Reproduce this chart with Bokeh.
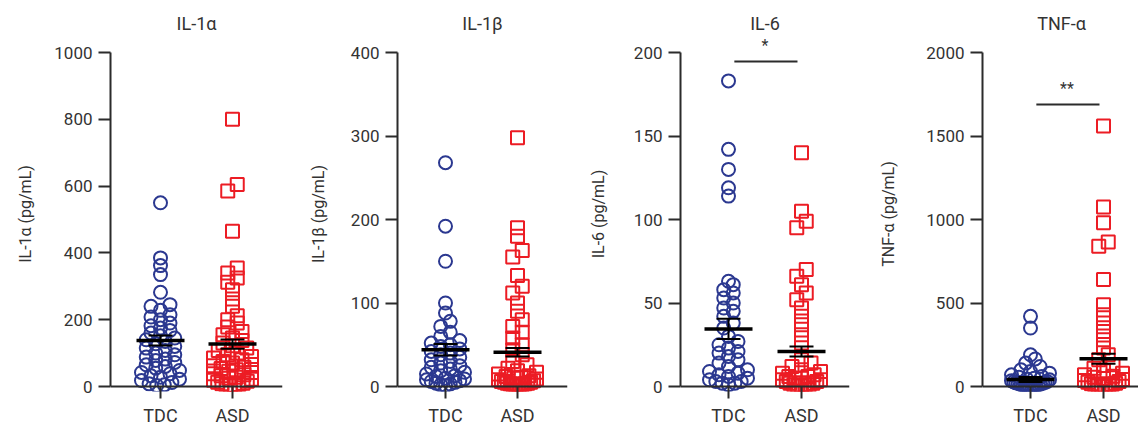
import numpy as np
from bokeh.plotting import figure
from bokeh.layouts import row
from bokeh.models import FixedTicker, Span, Range1d
from bokeh.core.properties import value
from bokeh.embed import file_html
from bokeh.resources import INLINE

# ---------------- data ----------------
groups = ["TDC", "ASD"]
group_x = [1, 2]
titles = ["IL-1α", "IL-1β", "IL-6", "TNF-α"]
ylabels = ["IL-1α (pg/mL)", "IL-1β (pg/mL)", "IL-6 (pg/mL)", "TNF-α (pg/mL)"]
y_max = [1000, 400, 200, 2000]
y_ticks = [[0, 200, 400, 600, 800, 1000],
           [0, 100, 200, 300, 400],
           [0, 50, 100, 150, 200],
           [0, 500, 1000, 1500, 2000]]

il1a_tdc = [550, 385, 362, 335, 282, 245, 240, 228, 215, 208, 200, 190, 182, 175, 168,
            160, 152, 145, 140, 135, 128, 120, 115, 108, 100, 95, 88, 82, 78, 72, 65,
            60, 55, 48, 42, 38, 32, 28, 22, 18, 12, 8, 5, 3]
il1a_asd = [800, 605, 585, 465, 355, 340, 325, 312, 290, 262, 240, 212, 200, 190, 178,
            165, 155, 145, 138, 130, 122, 115, 108, 100, 95, 90, 85, 80, 75, 70, 66, 62,
            58, 54, 50, 46, 42, 38, 35, 32, 28, 25, 22, 19, 16, 13, 10, 8, 6, 4, 3, 2]
il1b_tdc = [268, 192, 150, 100, 88, 78, 72, 65, 60, 55, 52, 50, 48, 45, 42, 40, 38, 35,
            32, 30, 28, 25, 23, 21, 19, 17, 15, 13, 12, 10, 9, 8, 7, 6, 5, 4, 3, 2, 1]
il1b_asd = [298, 190, 180, 163, 155, 133, 120, 112, 100, 90, 80, 72, 65, 58, 50, 44,
            38, 30, 26, 22, 19, 17, 15, 13, 12, 11, 10, 9, 8, 7, 6, 5, 5, 4, 4, 3, 3,
            2, 2, 1, 1]
il6_tdc = [183, 142, 130, 119, 114, 63, 61, 58, 56, 53, 50, 47, 45, 42, 38, 35, 30, 27,
           25, 23, 21, 20, 18, 16, 14, 12, 10, 9, 8, 7, 6, 5, 4, 3, 3, 2, 2, 1]
il6_asd = [140, 105, 99, 95, 70, 66, 61, 56, 52, 47, 42, 37, 31, 26, 16, 14, 12, 10, 9,
           8, 7, 6, 6, 5, 5, 4, 4, 3, 3, 2, 2, 1, 1, 1, 0.5, 0.5]
tnf_tdc = [420, 350, 190, 165, 140, 120, 100, 90, 80, 70, 60, 55, 50, 45, 40, 35, 30,
           28, 25, 22, 20, 18, 15, 12, 10, 8, 6, 5, 4, 3, 2, 1]
tnf_asd = [1560, 1075, 980, 865, 840, 640, 490, 430, 380, 330, 280, 230, 190, 160,
           130, 110, 95, 80, 70, 62, 55, 48, 42, 36, 30, 25, 20, 16, 12, 9, 6, 4, 2, 1]

series = [(il1a_tdc, il1a_asd), (il1b_tdc, il1b_asd), (il6_tdc, il6_asd), (tnf_tdc, tnf_asd)]

# mean and SEM as drawn (TDC, ASD)
means = [(138, 127), (44, 41), (34.5, 21), (42, 166)]
sems = [(15, 14), (7, 5), (6, 3), (15, 30)]

# significance brackets
sig_panel = [2, 3]
sig_label = ["*", "**"]
sig_y = [194.6, 1689]
sig_text_y = [204, 1785]

# ---------------- style / layout ----------------
FONT = "Roboto"
AX = "#2b2b2b"
TXT = "#333333"
BLUE = "#2b3890"
RED = "#ec1c24"

frame_w = [172, 170, 169, 158]
border_l = [110, 97, 94, 103]
border_r = [18, 18, 27, 0]
x_left = [1 - 50 / 72.0, 1 - 48 / 72.0, 1 - 48 / 73.0, 1 - 48 / 73.0]
px_per_x = [72.0, 72.0, 73.0, 73.0]
label_standoff = [16, 20, 23, 25]
FRAME_H = 355
ZERO_PX = 334.0   # pixels from 0 to top tick


def bin_offsets(vals, ppu, bin_h, spacing, max_half):
    """GraphPad-like scatter: points closer than bin_h (px) share a row and spread sideways."""
    vals = np.asarray(vals, float)
    order = np.argsort(vals)
    offs = np.zeros(len(vals))
    rows = []
    cur = []
    start = None
    for i in order:
        y = vals[i] * ppu
        if start is None or y - start >= bin_h:
            if cur:
                rows.append(cur)
            cur = [i]
            start = y
        else:
            cur.append(i)
    if cur:
        rows.append(cur)
    for r in rows:
        n = len(r)
        if n == 1:
            continue
        sp = min(spacing, 2 * max_half / (n - 1))
        pos = [(j - (n - 1) / 2.0) * sp for j in range(n)]
        order_pos = sorted(pos, key=lambda v: (abs(v), v))
        for idx, pv in zip(r, order_pos):
            offs[idx] = pv
    return offs


figs = []
for k in range(4):
    R = y_max[k]
    ppu = ZERO_PX / R
    y_end = R * (ZERO_PX + 16) / ZERO_PX
    y_start = -R * 5 / ZERO_PX
    x0 = x_left[k]
    x1 = x0 + frame_w[k] / px_per_x[k]
    p = figure(frame_width=frame_w[k], frame_height=FRAME_H,
               min_border_left=border_l[k], min_border_right=border_r[k],
               min_border_top=36, min_border_bottom=34,
               x_range=Range1d(x0, x1), y_range=Range1d(y_start, y_end),
               output_backend="svg", toolbar_location=None)
    p.outline_line_color = None
    p.grid.visible = False
    p.background_fill_color = "white"
    p.border_fill_color = "white"

    p.title.text = titles[k]
    p.title.align = "center"
    p.title.text_font = FONT
    p.title.text_font_size = "18px"
    p.title.text_font_style = "normal"
    p.title.text_color = TXT
    p.title.standoff = 6

    yax = p.yaxis[0]
    yax.ticker = FixedTicker(ticks=y_ticks[k])
    yax.bounds = (0, R)
    yax.axis_line_width = 2
    yax.axis_line_color = AX
    yax.major_tick_line_width = 2
    yax.major_tick_line_color = AX
    yax.major_tick_out = 12
    yax.major_tick_in = 0
    yax.minor_tick_line_color = None
    yax.major_label_standoff = 6
    yax.major_label_text_font = FONT
    yax.major_label_text_font_size = "17px"
    yax.major_label_text_color = TXT
    yax.axis_label = ylabels[k]
    yax.axis_label_text_font = FONT
    yax.axis_label_text_font_size = "16px"
    yax.axis_label_text_font_style = "normal"
    yax.axis_label_text_color = TXT
    yax.axis_label_standoff = label_standoff[k]

    xax = p.xaxis[0]
    xax.ticker = FixedTicker(ticks=group_x)
    xax.major_label_overrides = {gx: g for gx, g in zip(group_x, groups)}
    xax.axis_line_color = None
    xax.major_tick_line_width = 2
    xax.major_tick_line_color = AX
    xax.major_tick_in = 5
    xax.major_tick_out = 7
    xax.minor_tick_line_color = None
    xax.major_label_standoff = 6
    xax.major_label_text_font = FONT
    xax.major_label_text_font_size = "18px"
    xax.major_label_text_color = TXT

    p.add_layout(Span(location=0, dimension="width", line_color=AX, line_width=2))

    tdc, asd = series[k]
    off_t = bin_offsets(tdc, ppu, 7.0, 9.5, 19) / px_per_x[k]
    off_a = bin_offsets(asd, ppu, 7.0, 9.5, 19) / px_per_x[k]
    p.scatter(x=group_x[0] + off_t, y=tdc, marker="circle", size=13,
              fill_color=None, line_color=BLUE, line_width=2)
    p.scatter(x=group_x[1] + off_a, y=asd, marker="square", size=13,
              fill_color=None, line_color=RED, line_width=2)

    hw = 24 / px_per_x[k]
    cw = 12 / px_per_x[k]
    mx = np.array(group_x, float)
    m = np.array(means[k], float)
    s = np.array(sems[k], float)
    p.segment(x0=mx, y0=m - s, x1=mx, y1=m + s, line_color="black", line_width=2)
    p.segment(x0=mx - cw, y0=m + s, x1=mx + cw, y1=m + s, line_color="black", line_width=2)
    p.segment(x0=mx - cw, y0=m - s, x1=mx + cw, y1=m - s, line_color="black", line_width=2)
    p.segment(x0=mx - hw, y0=m, x1=mx + hw, y1=m, line_color="black", line_width=3.5)

    for j, pk in enumerate(sig_panel):
        if pk == k:
            p.segment(x0=[1.08], y0=[sig_y[j]], x1=[1.945], y1=[sig_y[j]],
                      line_color=AX, line_width=2)
            p.text(x=[1.5], y=[sig_text_y[j]], text=[sig_label[j]],
                   text_align="center", text_baseline="middle",
                   text_font=value(FONT), text_font_size="16px", text_color=TXT)
    figs.append(p)

layout = row(*figs)
open("out.html", "w").write(file_html(layout, INLINE))
